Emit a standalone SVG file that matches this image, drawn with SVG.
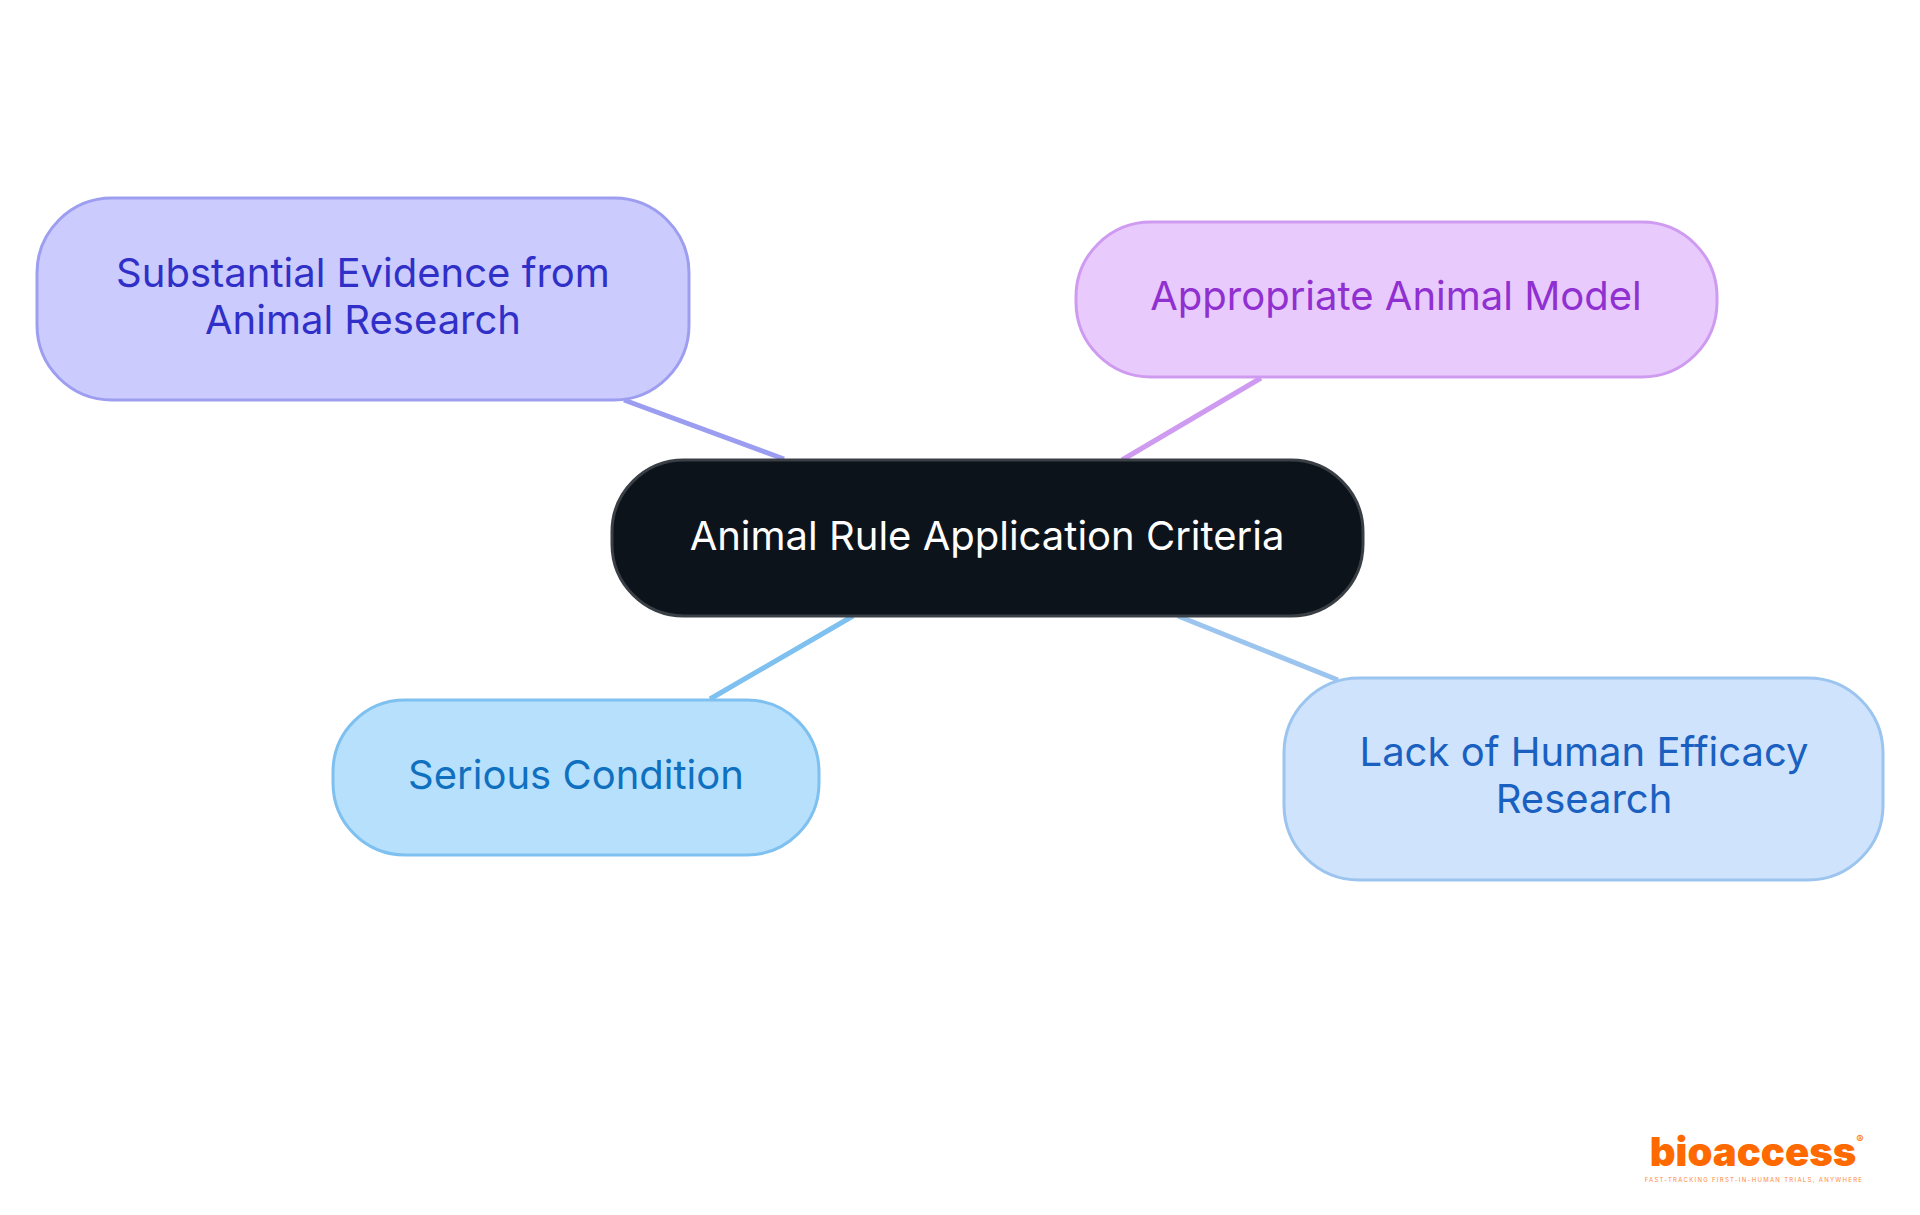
<svg xmlns="http://www.w3.org/2000/svg" width="1920" height="1215" viewBox="0 0 1920 1215">
<style>
text{font-family:Inter,"Noto Sans",sans-serif;font-size:40px;text-anchor:middle}
.c{stroke-width:5;fill:none}
</style>
<rect width="1920" height="1215" fill="#fff"/>
<g id="connectors">
<line class="c" x1="624" y1="400" x2="784" y2="459" stroke="#9b9df0"/>
<line class="c" x1="1261" y1="378" x2="1122" y2="460" stroke="#cf9bf0"/>
<line class="c" x1="853" y1="616" x2="710" y2="699" stroke="#7ec0ef"/>
<line class="c" x1="1178" y1="616" x2="1338" y2="680" stroke="#9bc4ef"/>
</g>
<g id="center">
<rect x="612" y="460" width="751" height="156" rx="72" fill="#0d131a" stroke="#3a3f45" stroke-width="3"/>
<text x="987" y="550" fill="#fff">Animal Rule Application Criteria</text>
</g>
<g id="substantial">
<rect x="37" y="198" width="652" height="202" rx="75" fill="#cbcbfd" stroke="#9d9ef0" stroke-width="3"/>
<text x="363" y="287" fill="#3030c8">Substantial Evidence from</text>
<text x="363" y="334" fill="#3030c8">Animal Research</text>
</g>
<g id="appropriate">
<rect x="1076" y="222" width="641" height="155" rx="75" fill="#e8cafd" stroke="#cf9bf0" stroke-width="3"/>
<text x="1396" y="310" fill="#9030d0">Appropriate Animal Model</text>
</g>
<g id="serious">
<rect x="333" y="700" width="486" height="155" rx="72" fill="#b7e0fd" stroke="#7ec0ef" stroke-width="3"/>
<text x="576" y="789" fill="#1070c0">Serious Condition</text>
</g>
<g id="lack">
<rect x="1284" y="678" width="599" height="202" rx="75" fill="#cfe3fc" stroke="#9bc4ef" stroke-width="3"/>
<text x="1584" y="766" fill="#1a60c0">Lack of Human Efficacy</text>
<text x="1584" y="813" fill="#1a60c0">Research</text>
</g>
<g id="logo">
<text x="1753" y="1166" style="font-size:40px;font-weight:900;fill:#ff6a00;font-family:Inter,sans-serif">bioaccess</text>
<text x="1860" y="1143" style="font-size:11px;fill:#ff6a00">®</text>
<text x="1754" y="1182" style="font-size:6px;fill:#ff8a3a;letter-spacing:1.3px">FAST-TRACKING FIRST-IN-HUMAN TRIALS, ANYWHERE</text>
</g>
</svg>
